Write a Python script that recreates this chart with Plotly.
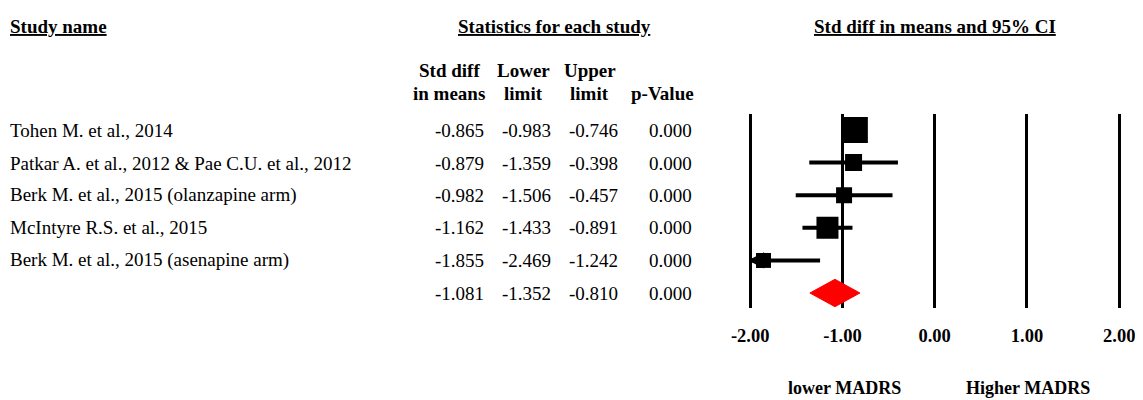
import plotly.graph_objects as go

studies = [
    "Tohen M. et al., 2014",
    "Patkar A. et al., 2012 & Pae C.U. et al., 2012",
    "Berk M. et al., 2015 (olanzapine arm)",
    "McIntyre R.S. et al., 2015",
    "Berk M. et al., 2015 (asenapine arm)",
]
std_diff = [-0.865, -0.879, -0.982, -1.162, -1.855]
lower = [-0.983, -1.359, -1.506, -1.433, -2.469]
upper = [-0.746, -0.398, -0.457, -0.891, -1.242]
p_values = [0.000, 0.000, 0.000, 0.000, 0.000]
box_sizes = [26, 17, 16, 22, 15]

pooled_est = -1.081
pooled_lower = -1.352
pooled_upper = -0.810
pooled_p = 0.000

tick_vals = [-2, -1, 0, 1, 2]
tick_text = ["-2.00", "-1.00", "0.00", "1.00", "2.00"]
axis_min, axis_max = -2.0, 2.0

OFF = 8  # page body margin
W, H = 1143 - OFF, 400 - OFF
FONT = "Liberation Serif, Times New Roman, serif"
FS = 19
FSB = 19

fig = go.Figure()

rows = list(range(len(studies)))
pooled_row = len(studies)

for i, (lo, hi) in enumerate(zip(lower, upper)):
    lo_c = max(lo, axis_min)
    hi_c = min(hi, axis_max)
    fig.add_trace(go.Scatter(x=[lo_c, hi_c], y=[i, i], mode="lines",
                             line=dict(color="black", width=4),
                             showlegend=False, hoverinfo="skip"))
    if lo < axis_min:
        fig.add_trace(go.Scatter(x=[axis_min], y=[i], mode="markers",
                                 marker=dict(symbol="arrow-left-open", size=13, opacity=1,
                                             color="black", line=dict(color="black", width=2)),
                                 showlegend=False, hoverinfo="skip"))

fig.add_trace(go.Scatter(x=std_diff, y=rows, mode="markers",
                         marker=dict(symbol="square", size=box_sizes, color="black",
                                     opacity=1, line=dict(width=0)),
                         showlegend=False, hoverinfo="skip"))

dh = 0.42
fig.add_trace(go.Scatter(
    x=[pooled_lower, pooled_est, pooled_upper, pooled_est, pooled_lower],
    y=[pooled_row, pooled_row - dh, pooled_row, pooled_row + dh, pooled_row],
    mode="lines", fill="toself", fillcolor="#ff0000",
    line=dict(color="#ff0000", width=1), showlegend=False, hoverinfo="skip"))

# axes geometry in reference pixels
tick_m2_px, tick_p2_px = 751, 1124
unit_px = (tick_p2_px - tick_m2_px) / (axis_max - axis_min)
px_left, px_right = 739, 1135
xr = [axis_min - (tick_m2_px - px_left) / unit_px, axis_max + (px_right - tick_p2_px) / unit_px]

top_px, bot_px = 114, 308
row_top_px, row_step_px = 130, 32.6
yr = [(bot_px - row_top_px) / row_step_px, -(row_top_px - top_px) / row_step_px]


def fx(px):
    return (px - OFF) / W


def fy(py):
    return 1 - (py - OFF) / H


fig.update_layout(
    width=W, height=H,
    margin=dict(l=0, r=0, t=0, b=0),
    paper_bgcolor="white", plot_bgcolor="white",
    font=dict(family=FONT, size=FS, color="black"),
    xaxis=dict(domain=[fx(px_left), fx(px_right)], range=xr,
               tickvals=tick_vals, ticktext=tick_text,
               showgrid=True, gridcolor="black", gridwidth=3,
               zeroline=False, showline=False,
               ticks="outside", ticklen=11, tickcolor="rgba(0,0,0,0)",
               tickfont=dict(family=FONT, size=18.5, weight="bold")),
    yaxis=dict(domain=[fy(bot_px), fy(top_px)], range=yr,
               showgrid=False, zeroline=False, showticklabels=False,
               showline=False),
)

LEFT_FIX = 9


def ann(text, x, y, anchor="left", size=FS, bold=False):
    t = f"<b>{text}</b>" if bold else text
    if anchor == "left":
        x = x - LEFT_FIX
    fig.add_annotation(text=t, x=fx(x), y=fy(y), xref="paper", yref="paper",
                       xanchor=anchor, yanchor="middle", showarrow=False,
                       font=dict(family=FONT, size=size, color="black"))


ann("<u>Study name</u>", 10, 27, bold=True, size=FSB)
ann("<u>Statistics for each study</u>", 553, 27, anchor="center", bold=True, size=FSB)
ann("<u>Std diff in means and 95% CI</u>", 938, 27, anchor="center", bold=True, size=FSB)

ann("Std diff", 447, 70, anchor="center", bold=True, size=FSB)
ann("in means", 447, 93, anchor="center", bold=True, size=FSB)
ann("Lower", 522, 70, anchor="center", bold=True, size=FSB)
ann("limit", 522, 93, anchor="center", bold=True, size=FSB)
ann("Upper", 589, 70, anchor="center", bold=True, size=FSB)
ann("limit", 589, 93, anchor="center", bold=True, size=FSB)
ann("p-Value", 662, 93, anchor="center", bold=True, size=FSB)

row_y = [130, 163, 195, 227, 260, 293]
for i, name in enumerate(studies):
    y = row_y[i]
    ann(name, 10, y)
    ann(f"{std_diff[i]:.3f}", 484, y, anchor="right")
    ann(f"{lower[i]:.3f}", 552, y, anchor="right")
    ann(f"{upper[i]:.3f}", 619, y, anchor="right")
    ann(f"{p_values[i]:.3f}", 694, y, anchor="right")

y = row_y[pooled_row]
ann(f"{pooled_est:.3f}", 484, y, anchor="right")
ann(f"{pooled_lower:.3f}", 552, y, anchor="right")
ann(f"{pooled_upper:.3f}", 619, y, anchor="right")
ann(f"{pooled_p:.3f}", 694, y, anchor="right")

ann("lower MADRS", 846, 388, anchor="center", size=18, bold=True)
ann("Higher MADRS", 1032, 388, anchor="center", size=18, bold=True)

fig.write_html("out.html")
